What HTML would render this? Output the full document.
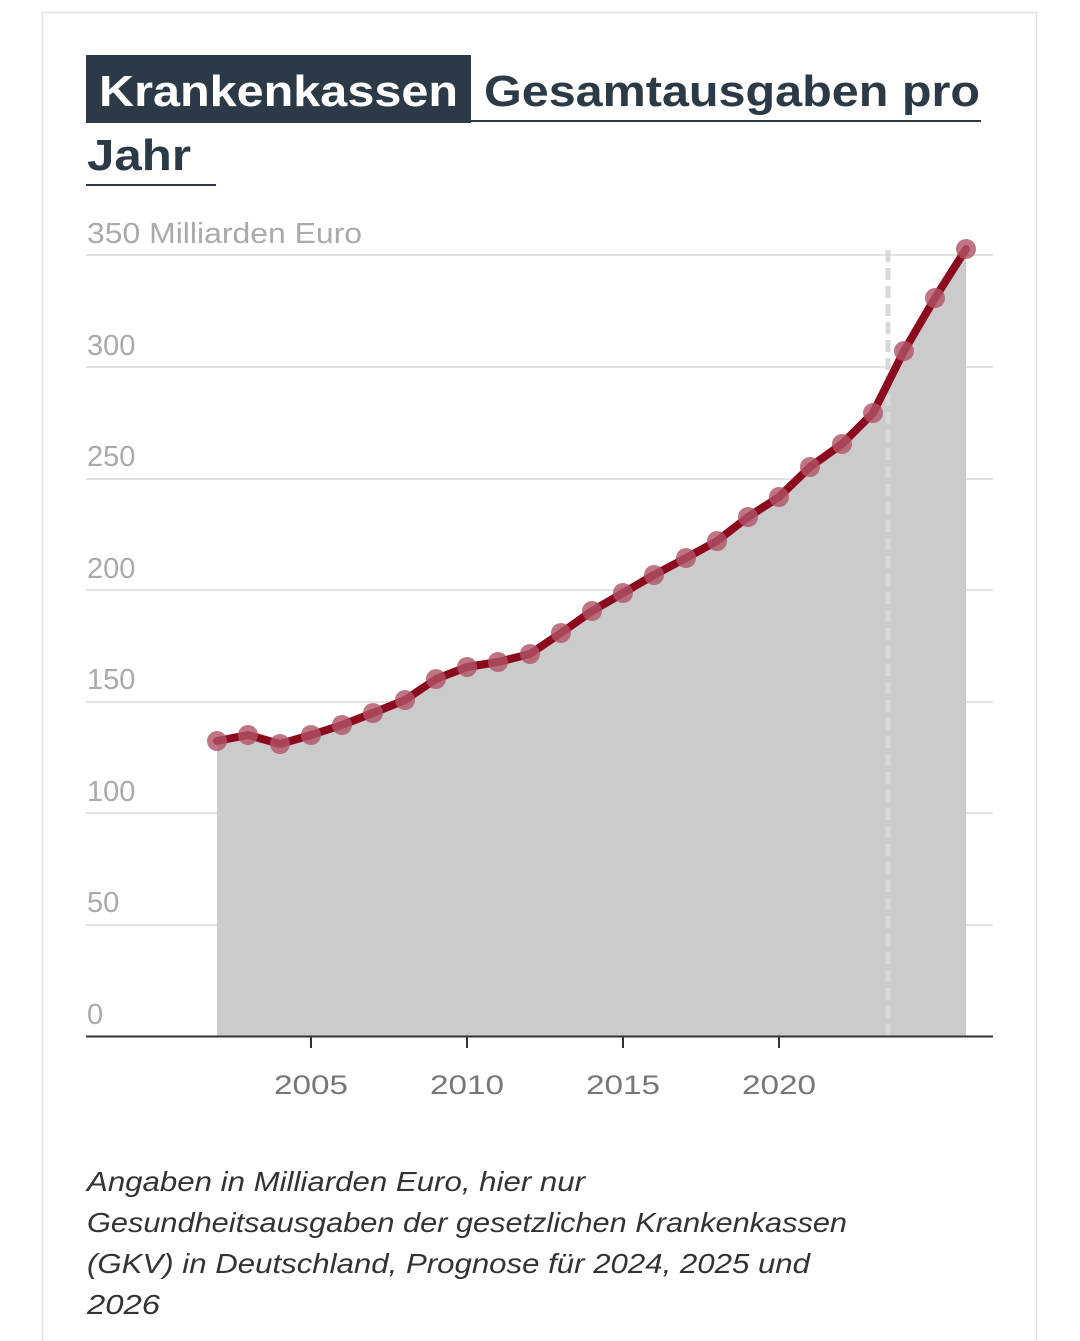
<!DOCTYPE html>
<html><head><meta charset="utf-8"><style>
html,body{margin:0;padding:0;background:#fff;}
svg{display:block;}
text{font-family:"Liberation Sans",sans-serif;}
</style></head><body>
<svg width="1080" height="1341" viewBox="0 0 1080 1341" xmlns="http://www.w3.org/2000/svg">
<rect x="42.5" y="12.5" width="994" height="1340" fill="#fff" stroke="#e2e2e2" stroke-width="1.5"/>
<rect x="86" y="55" width="385" height="68" fill="#2c3a47"/>
<text x="99" y="106" font-size="44" font-weight="bold" fill="#fff" textLength="359" lengthAdjust="spacingAndGlyphs">Krankenkassen</text>
<text x="484" y="106" font-size="44" font-weight="bold" fill="#2c3a47" textLength="496" lengthAdjust="spacingAndGlyphs">Gesamtausgaben pro</text>
<rect x="470" y="120" width="511" height="2" fill="#2c3a47"/>
<text x="87" y="170" font-size="44" font-weight="bold" fill="#2c3a47" textLength="104" lengthAdjust="spacingAndGlyphs">Jahr</text>
<rect x="86" y="184" width="130" height="2" fill="#2c3a47"/>
<g stroke="#e3e3e3" stroke-width="2">
<line x1="86" y1="255" x2="993" y2="255"/><line x1="86" y1="367" x2="993" y2="367"/>
<line x1="86" y1="479" x2="993" y2="479"/><line x1="86" y1="590" x2="993" y2="590"/>
<line x1="86" y1="702" x2="993" y2="702"/><line x1="86" y1="813" x2="993" y2="813"/>
<line x1="86" y1="925" x2="993" y2="925"/>
</g>
<g font-size="29" fill="#aaa">
<text x="87" y="243" textLength="275" lengthAdjust="spacingAndGlyphs">350 Milliarden Euro</text>
<text x="87" y="355">300</text><text x="87" y="466">250</text><text x="87" y="578">200</text>
<text x="87" y="689">150</text><text x="87" y="801">100</text><text x="87" y="912">50</text>
<text x="87" y="1024">0</text>
</g>
<polygon fill="#cbcbcb" points="217,741 248,735 280,744 311,735 342,725 373,713 405,700 436,679 467,667 498,662 530,654 561,633 592,611 623,593 654,575 686,558 717,541 748,517 779,497 810,467 842,444 873,413 904,351 935,298 966,249 966,1036 217,1036"/>
<line x1="888" y1="250" x2="888" y2="1036" stroke="#d8d8d8" stroke-width="5" stroke-dasharray="12,6"/>
<line x1="86" y1="1036.5" x2="993" y2="1036.5" stroke="#333" stroke-width="2"/>
<g stroke="#333" stroke-width="2"><line x1="311" y1="1036" x2="311" y2="1048"/><line x1="467" y1="1036" x2="467" y2="1048"/><line x1="623" y1="1036" x2="623" y2="1048"/><line x1="779" y1="1036" x2="779" y2="1048"/></g>
<g font-size="27" fill="#777">
<text x="274" y="1094" textLength="74" lengthAdjust="spacingAndGlyphs">2005</text><text x="430" y="1094" textLength="74" lengthAdjust="spacingAndGlyphs">2010</text><text x="586" y="1094" textLength="74" lengthAdjust="spacingAndGlyphs">2015</text><text x="742" y="1094" textLength="74" lengthAdjust="spacingAndGlyphs">2020</text>
</g>
<polyline fill="none" stroke="#8b0a1e" stroke-width="8" stroke-linejoin="round" stroke-linecap="round" points="217,741 248,735 280,744 311,735 342,725 373,713 405,700 436,679 467,667 498,662 530,654 561,633 592,611 623,593 654,575 686,558 717,541 748,517 779,497 810,467 842,444 873,413 904,351 935,298 966,249"/>
<g fill="#b05266" fill-opacity="0.8">
<circle cx="217" cy="741" r="10"/><circle cx="248" cy="735" r="10"/><circle cx="280" cy="744" r="10"/><circle cx="311" cy="735" r="10"/><circle cx="342" cy="725" r="10"/><circle cx="373" cy="713" r="10"/><circle cx="405" cy="700" r="10"/><circle cx="436" cy="679" r="10"/><circle cx="467" cy="667" r="10"/><circle cx="498" cy="662" r="10"/><circle cx="530" cy="654" r="10"/><circle cx="561" cy="633" r="10"/><circle cx="592" cy="611" r="10"/><circle cx="623" cy="593" r="10"/><circle cx="654" cy="575" r="10"/><circle cx="686" cy="558" r="10"/><circle cx="717" cy="541" r="10"/><circle cx="748" cy="517" r="10"/><circle cx="779" cy="497" r="10"/><circle cx="810" cy="467" r="10"/><circle cx="842" cy="444" r="10"/><circle cx="873" cy="413" r="10"/><circle cx="904" cy="351" r="10"/><circle cx="935" cy="298" r="10"/><circle cx="966" cy="249" r="10"/>
</g>
<g font-size="28" font-style="italic" fill="#333">
<text x="87" y="1191" textLength="498" lengthAdjust="spacingAndGlyphs">Angaben in Milliarden Euro, hier nur</text>
<text x="87" y="1232" textLength="760" lengthAdjust="spacingAndGlyphs">Gesundheitsausgaben der gesetzlichen Krankenkassen</text>
<text x="87" y="1273" textLength="723" lengthAdjust="spacingAndGlyphs">(GKV) in Deutschland, Prognose für 2024, 2025 und</text>
<text x="87" y="1314" textLength="73" lengthAdjust="spacingAndGlyphs">2026</text>
</g>
</svg>
</body></html>
